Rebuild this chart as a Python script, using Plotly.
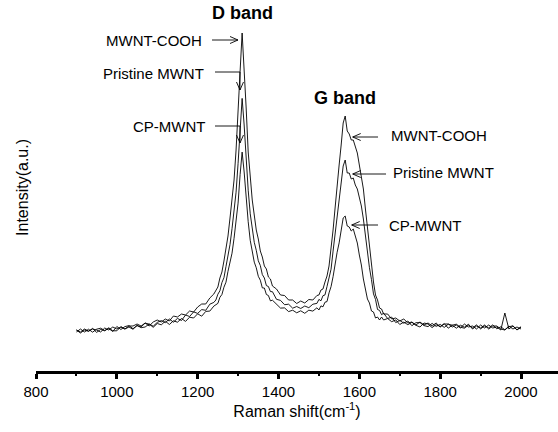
import plotly.graph_objects as go

# Raman shift sample positions (cm^-1)
wavenumber = [
    900, 910, 920, 930, 940, 950, 960, 970, 980, 990, 1000, 1010, 1020, 1030, 1040, 1050, 1060, 1070,
    1080, 1090, 1100, 1110, 1120, 1130, 1140, 1150, 1160, 1170, 1180, 1190, 1200, 1210, 1220, 1230, 1240,
    1245, 1250, 1255, 1260, 1265, 1270, 1275, 1280, 1285, 1290, 1295, 1300, 1305, 1310, 1315, 1320, 1325,
    1330, 1335, 1340, 1345, 1350, 1355, 1360, 1365, 1370, 1375, 1380, 1385,
    1395, 1405, 1415, 1425, 1435, 1445, 1455, 1465, 1475, 1485, 1495,
    1500, 1505, 1510, 1515, 1520, 1525, 1530, 1535, 1540, 1545, 1550, 1555, 1560, 1565, 1570, 1575, 1580,
    1585, 1590, 1595, 1600, 1605, 1610, 1615, 1620, 1625, 1630, 1635, 1640, 1645, 1650, 1655, 1660,
    1670, 1680, 1690, 1700, 1710, 1720, 1730, 1740, 1750, 1760, 1770, 1780, 1790, 1800, 1810, 1820, 1830,
    1840, 1850, 1860, 1870, 1880, 1890, 1900, 1910, 1920, 1930, 1940, 1950, 1960, 1970, 1980, 1990, 2000,
]

# Intensities (a.u.)
mwnt_cooh = [
    41, 39, 42, 40, 42, 41, 39, 43, 41, 44, 42, 44, 42, 45, 45, 47, 45, 48, 45, 49, 51, 49, 52, 50, 55, 54,
    57, 56, 60, 59, 64, 67, 67, 73, 77,
    81, 84, 93, 99, 110, 121, 135, 153, 170, 191, 221, 255, 300, 338, 306, 263, 219, 193, 171, 156, 141,
    132, 120, 114, 105, 102, 94, 92, 85,
    82, 76, 75.5, 71, 71, 67.5, 70, 68, 71.5, 71, 75.5,
    76, 81, 82, 89, 95, 105, 121, 141, 163, 187, 206, 226, 248, 255, 240, 237, 231, 231, 223, 218, 206,
    195, 182, 162, 143, 123, 103, 89, 76, 71, 63, 62, 57,
    57, 52, 53, 50, 52, 48, 49, 46, 49, 46, 48, 45, 48, 44, 47, 47, 44, 46, 43, 47, 44, 45, 42, 46, 43,
    46, 43, 44, 41, 58, 42, 45, 41, 44,
]

pristine_mwnt = [
    39, 42, 39, 41.8, 38.8, 41.8, 42.8, 40.5, 42.5, 39.5, 44.5, 41.5, 44.4, 45.4, 42.3, 45.3, 44.1, 47.9,
    46.9, 44.8, 48.6, 50.4, 48.3, 52, 48.8, 52.6, 50.5, 56, 54.5, 59.1, 57.6, 61.4, 60.7, 66.8, 68.6,
    71, 76.8, 80.2, 88.4, 93.3, 104.5, 115.1, 126.4, 142.3, 158.2, 178.8, 207.7, 241.4, 272.6, 246, 211.1,
    180.8, 157.2, 143.8, 128.7, 120.7, 110.2, 105.5, 96.4, 93, 85.4, 84.5, 79.4, 79.3,
    71.7, 70.6, 66.3, 66.8, 62.8, 64.5, 62.5, 65, 63.3, 66.8, 67.6,
    71.6, 70.2, 75.3, 76.1, 84.5, 92, 101.8, 119.9, 136.6, 152.6, 170, 188, 205, 211, 198, 198, 192, 193,
    186, 182, 173, 165, 152, 134.9, 121.5, 103.3, 91.4, 77.1, 71.6, 61.5, 60.6, 56.3, 57.8,
    52.5, 53.9, 48.4, 50.6, 47.8, 50, 45.3, 48.3, 48.4, 45.4, 44.4, 47.6, 44.6, 46.6, 43.6, 46.8, 45.8,
    42.8, 45.8, 43.8, 46.8, 42, 45, 43, 46, 42, 45, 45, 42, 41, 45, 42, 44, 42,
]

cp_mwnt = [
    41, 38, 41, 39.6, 42.6, 38.6, 41.6, 40.2, 43.2, 40.2, 40.2, 44.3, 42, 44, 41.7, 45.7, 43.3, 44, 47,
    43.7, 47.5, 46.2, 49.8, 46.5, 50.2, 48.8, 52.5, 49.6, 53.8, 53, 57.2, 54.8, 59.6, 59.9, 64.9,
    66.7, 67.6, 73.7, 76.5, 83.8, 88.8, 99.7, 108.1, 117.8, 132.7, 148.3, 167.9, 196.5, 218.9, 199, 172,
    149.3, 130.7, 120.9, 108.9, 103.2, 94.7, 90.8, 83.1, 83, 76.5, 75.5, 70.1, 70.8,
    67.2, 62.9, 63.1, 59.4, 60.8, 58.2, 60.2, 57.7, 60.8, 59.9, 63.2,
    61, 65.1, 64.2, 68.8, 69.4, 78.1, 84.4, 94.3, 108.3, 118.7, 128.1, 141, 153, 155, 145, 144, 140, 142,
    134, 128, 116, 106, 92, 83, 72, 68, 60, 59, 53, 54, 51, 54, 51,
    52.5, 49.3, 51.1, 46.5, 48.9, 46.3, 48.7, 45.7, 44, 48, 47, 43.4, 46.4, 44.4, 47.4, 42.8, 45.8, 46.8,
    43.8, 42.8, 45.8, 43.1, 46.1, 42.1, 45.1, 43.1, 46.1, 42.2, 44.2, 41.2, 44.2, 45.2, 41.2, 44.2,
]

series = {"MWNT-COOH": mwnt_cooh, "Pristine MWNT": pristine_mwnt, "CP-MWNT": cp_mwnt}
for name, vals in series.items():
    if len(vals) != len(wavenumber):
        raise ValueError(f"{name}: {len(vals)} values vs {len(wavenumber)} positions")

x_tick_values = [800, 1000, 1200, 1400, 1600, 1800, 2000]

FONT = "Liberation Sans, Arial, sans-serif"
LW = 0.9
XPX = 2.4742   # wavenumber units per pixel
YPX = 1.0      # intensity units per pixel

fig = go.Figure()
for name, vals in series.items():
    fig.add_trace(go.Scatter(x=wavenumber, y=vals, mode="lines", name=name,
                             line=dict(color="black", width=LW), showlegend=False,
                             hoverinfo="skip"))

labels = [
    ("<b>D band</b>", 1309.7, 358, 18),
    ("<b>G band</b>", 1564.5, 273, 18),
    ("MWNT-COOH", 1090.7, 331, 15),
    ("Pristine MWNT", 1089.5, 298, 15),
    ("CP-MWNT", 1129, 244.5, 15),
    ("MWNT-COOH", 1795.9, 236, 15),
    ("Pristine MWNT", 1808.2, 199, 15),
    ("CP-MWNT", 1761.2, 146, 15),
]
ann_list = []
for text, x, y, size in labels:
    ann_list.append(dict(text=text, x=x, y=y, xref="x", yref="y", showarrow=False,
                         xanchor="center", yanchor="middle",
                         font=dict(family=FONT, size=size, color="black")))

ann_list.append(dict(text="Intensity(a.u.)", xref="paper", yref="paper", x=-0.025, y=0.496,
                     showarrow=False, textangle=-90, xanchor="center", yanchor="middle",
                     font=dict(family=FONT, size=16, color="black")))

shapes = []


def seg(x0, y0, x1, y1):
    shapes.append(dict(type="line", xref="x", yref="y", x0=x0, y0=y0, x1=x1, y1=y1,
                       line=dict(color="black", width=LW)))


def arrow(hx, hy, tx, ty):
    """Line from tail to head with an open arrowhead at the head."""
    seg(tx, ty, hx, hy)
    L, W = 8, 3.5
    if hy == ty:  # horizontal
        s = 1 if hx > tx else -1
        seg(hx - s * L * XPX, hy + W * YPX, hx, hy)
        seg(hx - s * L * XPX, hy - W * YPX, hx, hy)
    else:  # vertical
        s = 1 if hy > ty else -1
        seg(hx + W * XPX, hy - s * L * YPX, hx, hy)
        seg(hx - W * XPX, hy - s * L * YPX, hx, hy)


# left-side arrows
arrow(1299.8, 331, 1235.5, 331)
seg(1242.9, 299, 1304.7, 299)
arrow(1304.7, 281, 1304.7, 299)
seg(1242.9, 245, 1304.7, 245)
arrow(1304.7, 228, 1304.7, 245)
# right-side arrows
arrow(1583.6, 234, 1646.2, 234)
arrow(1583.6, 197, 1666.0, 197)
arrow(1581.1, 146, 1646.2, 146)

fig.update_layout(
    width=558, height=432,
    margin=dict(l=36, r=0, t=0, b=61),
    paper_bgcolor="white", plot_bgcolor="white",
    font=dict(family=FONT, size=15, color="black"),
    annotations=ann_list,
    shapes=shapes,
    hovermode=False,
    xaxis=dict(range=[800, 2091.5], showgrid=False, zeroline=False,
               showline=True, linecolor="black", linewidth=3,
               ticks="outside", ticklen=5, tickwidth=3, tickcolor="black",
               tickvals=x_tick_values, ticktext=[str(v) for v in x_tick_values],
               tickfont=dict(family=FONT, size=15, color="black"),
               minor=dict(ticks="outside", ticklen=2, tickwidth=2, tickcolor="black", dtick=100, tick0=800),
               title=dict(text="Raman shift(cm<sup>-1</sup>)", standoff=6,
                          font=dict(family=FONT, size=16, color="black"))),
    yaxis=dict(range=[0, 371], visible=False),
)

fig.write_html(
    "out.html",
    config={"displayModeBar": False, "staticPlot": True},
    post_script="document.body.style.margin='0';document.body.style.padding='0';"
                "document.body.style.overflow='hidden';",
)
